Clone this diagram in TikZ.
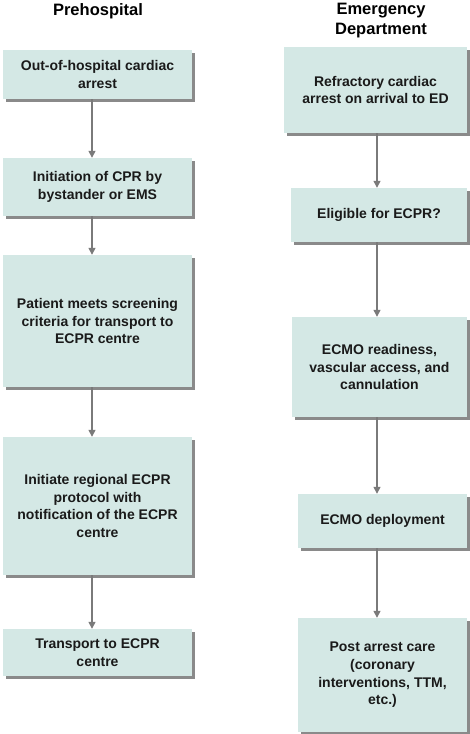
\documentclass[tikz,border=0pt]{standalone}
\usepackage{fontspec}
\setmainfont{Liberation Sans}
\usetikzlibrary{shadows,arrows.meta}
\definecolor{boxfill}{HTML}{D4E8E5}
\definecolor{shadowgray}{HTML}{8A8A8A}
\definecolor{arrowgray}{HTML}{7A7A7A}
\definecolor{txt}{HTML}{1A1A1A}
\tikzset{
  flowbox/.style={fill=boxfill, inner sep=0pt, align=center, text=txt,
    font=\bfseries\fontsize{14}{17.6}\selectfont,
    drop shadow={shadow xshift=2.5pt, shadow yshift=-2.5pt, fill=shadowgray, opacity=1}},
  header/.style={align=center, text=black, font=\bfseries\fontsize{16.5}{20}\selectfont},
  arr/.style={draw=arrowgray, line width=1.3pt, -{Triangle[length=7pt,width=7pt]}}
}
\begin{document}
\begin{tikzpicture}[x=1pt,y=-1pt]
\useasboundingbox (0,0) rectangle (470,734);
\node[header] (hL) at (98,11) {Prehospital};
\node[header] (hR) at (381,21) {Emergency\\Department};

\node[flowbox, minimum width=189pt, minimum height=49pt] (L1) at (97.5,74.5) {Out-of-hospital cardiac\\arrest};
\node[flowbox, minimum width=189pt, minimum height=58pt] (L2) at (97.5,187) {Initiation of CPR by\\bystander or EMS};
\node[flowbox, minimum width=189pt, minimum height=132pt] (L3) at (97.5,321) {Patient meets screening\\criteria for transport to\\ECPR centre};
\node[flowbox, minimum width=189pt, minimum height=138pt] (L4) at (97.5,506) {Initiate regional ECPR\\protocol with\\notification of the ECPR\\centre};
\node[flowbox, minimum width=189pt, minimum height=47pt] (L5) at (97.5,652.5) {Transport to ECPR\\centre};

\node[flowbox, minimum width=183pt, minimum height=86pt] (R1) at (375.5,90) {Refractory cardiac\\arrest on arrival to ED};
\node[flowbox, minimum width=176pt, minimum height=54pt] (R2) at (379,215) {Eligible for ECPR?};
\node[flowbox, minimum width=175pt, minimum height=100pt] (R3) at (379.5,367) {ECMO readiness,\\vascular access, and\\cannulation};
\node[flowbox, minimum width=169pt, minimum height=54pt] (R4) at (382.5,521) {ECMO deployment};
\node[flowbox, minimum width=169pt, minimum height=114pt] (R5) at (382.5,675) {Post arrest care\\(coronary\\interventions, TTM,\\etc.)};

\coordinate (colL) at (92,0);
\coordinate (colR) at (377,0);

\draw[arr] (L1.south -| colL) -- (L2.north -| colL);
\draw[arr] (L2.south -| colL) -- (L3.north -| colL);
\draw[arr] (L3.south -| colL) -- (L4.north -| colL);
\draw[arr] (L4.south -| colL) -- (L5.north -| colL);

\draw[arr] (R1.south -| colR) -- (R2.north -| colR);
\draw[arr] (R2.south -| colR) -- (R3.north -| colR);
\draw[arr] (R3.south -| colR) -- (R4.north -| colR);
\draw[arr] (R4.south -| colR) -- (R5.north -| colR);
\end{tikzpicture}
\end{document}
